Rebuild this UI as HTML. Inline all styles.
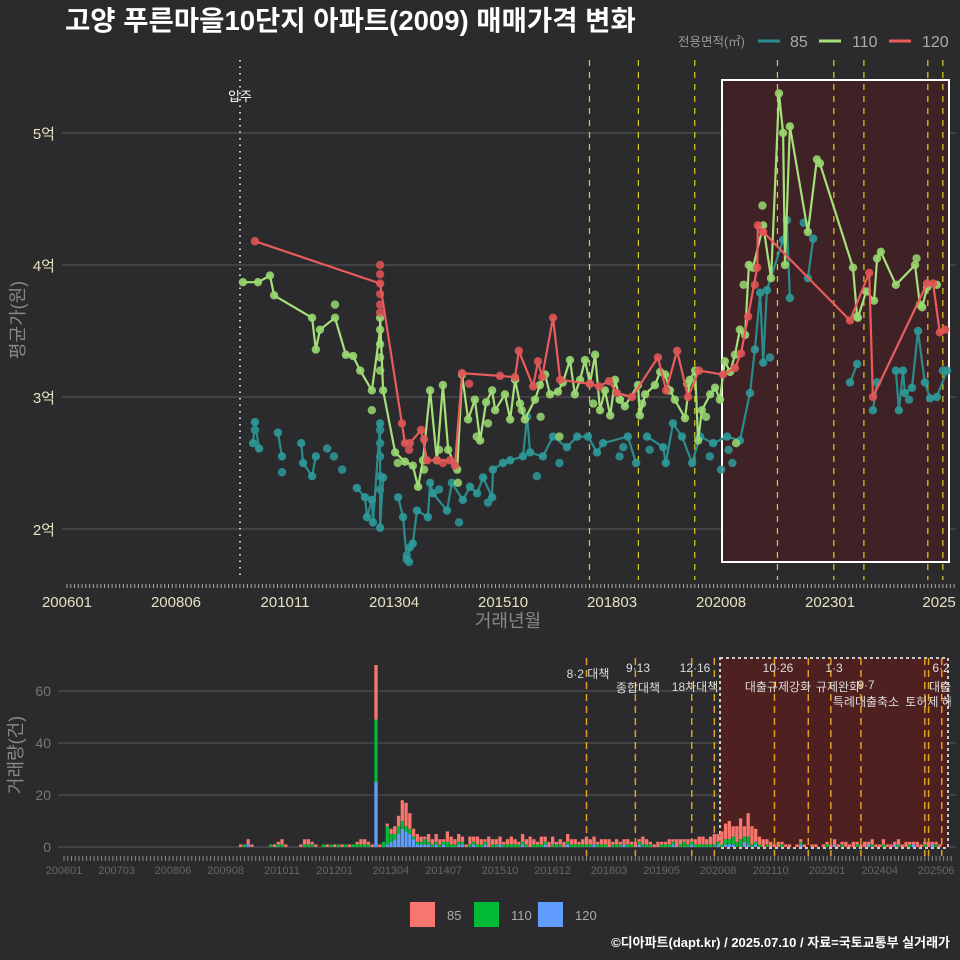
<!DOCTYPE html>
<html><head><meta charset="utf-8">
<style>
html,body{margin:0;padding:0;background:#2b2b2d;}
svg{display:block;font-family:"Liberation Sans","Noto Sans CJK KR",sans-serif;}
</style></head>
<body>
<svg id="chart" width="960" height="960" viewBox="0 0 960 960" xmlns="http://www.w3.org/2000/svg">
<rect x="0" y="0" width="960" height="960" fill="#2b2b2d"/>
<text x="65" y="30" fill="#ffffff" font-size="27.5" font-weight="bold">고양 푸른마을10단지 아파트(2009) 매매가격 변화</text>
<g font-size="16" fill="#aaaaaa">
<text x="678" y="46" font-size="12.5" fill="#999">전용면적(㎡)</text>
<line x1="758" y1="41" x2="780" y2="41" stroke="#2a8c8c" stroke-width="3"/><text x="790" y="47">85</text>
<line x1="819" y1="41" x2="841" y2="41" stroke="#a6e07a" stroke-width="3"/><text x="852" y="47">110</text>
<line x1="889" y1="41" x2="911" y2="41" stroke="#e85c5c" stroke-width="3"/><text x="922" y="47">120</text>
</g>
<g id="topg"></g>
<g id="bottom"></g>
<g font-size="13" fill="#aaaaaa">
<rect x="410" y="902" width="25" height="25" fill="#f8766d"/><text x="447" y="920">85</text>
<rect x="474" y="902" width="25" height="25" fill="#00ba38"/><text x="511" y="920">110</text>
<rect x="538" y="902" width="25" height="25" fill="#619cff"/><text x="575" y="920">120</text>
</g>
<text x="950" y="947" text-anchor="end" fill="#ffffff" font-size="13" font-weight="bold">©디아파트(dapt.kr) / 2025.07.10 / 자료=국토교통부 실거래가</text>
</svg>
<script>
// ===== DATA (months since 2006-01, prices in 억) =====
const xTickLabels = ["200601","200806","201011","201304","201510","201803","202008","202301","2025"];
const xTickMonths = [0,29,58,87,116,145,174,203,232];
const yTickLabels = ["2억","3억","4억","5억"];
const yTickValues = [2,3,4,5];
const eventMonths = [139,152,167,189,204,212,229,233];

const m110 = [46.8,50.8,54,55.1,65.2,66.2,67.3,71.3,74.2,76.1,78,81.1,83.3,83.3,84.1,87.3,89.9,92,93.4,94.7,96.6,98.4,100,101.4,103.8,105.1,106.7,108.5,109.9,111.5,113.1,113.9,116.5,117.9,119.2,120.5,121.8,124.5,125.8,127.2,128.5,130.6,131.9,133.8,135.1,136.5,137.8,139.1,140.5,141.8,143.1,144.5,145.8,147.1,148.4,151.9,152.4,153.8,156.4,157.8,159.1,160.4,161.7,164.4,165.7,167.1,167.9,168.9,171.1,172.4,173.7,175,176.4,177.7,179,180.4,181.4,182.5,185.2,187.3,189.4,190.5,191,192.3,197.1,199.5,200.3,209.1,210.2,210.4,212.6,214.7,215.5,216.5,220.5,225.6,226.9,227.5,228.8,231.4];
const v110 = [3.87,3.87,3.92,3.77,3.6,3.36,3.51,3.6,3.32,3.31,3.2,3.05,3.51,3.6,3.05,2.58,2.51,2.48,2.32,2.52,3.05,2.52,3.09,2.6,2.45,3.17,2.83,2.98,2.67,2.96,3.05,2.9,3.02,2.83,3.13,2.95,2.83,2.98,3.09,3.17,3.02,3.04,3.11,3.28,3.02,3.13,3.28,3.1,3.32,2.9,3.05,2.86,3.13,2.98,2.93,3.09,2.86,3.02,3.09,3.19,3.17,3.05,2.98,2.84,3.13,3.2,2.67,2.9,3.02,3.07,2.98,3.27,3.19,3.32,3.51,3.47,4,3.98,4.3,3.9,5.3,5,4,5.05,4.25,4.8,4.77,3.98,3.61,3.6,3.8,3.73,4.05,4.1,3.85,4,3.7,3.68,3.83,3.85];

const m120 = [50,83.3,89.1,89.9,91.2,94.2,95.8,98.4,101.9,103.2,105.1,115.2,119.2,120.2,124,125.3,126.4,129.3,131.2,139.1,141.5,144.2,146.3,150.3,157.2,159.4,162.3,165.2,168.1,174.5,177.7,179.3,181.2,183.6,183.8,185.2,208.3,213.4,214.4,228.8,230.4,232.2,233.6];
const v120 = [4.18,3.86,2.8,2.65,2.65,2.75,2.52,2.52,2.52,2.48,3.18,3.16,3.15,3.35,3.08,3.27,3.15,3.6,3.13,3.1,3.08,3.12,3.03,3,3.3,3.05,3.35,3,3.2,3.17,3.22,3.33,3.61,3.98,4.3,4.25,3.58,3.94,3,3.86,3.86,3.49,3.51];

// null marks a break in the 85 line
const m85 = [49.5,50,51.1,null,56.1,57.2,null,62.3,62.8,65.2,66.2,null,77.1,79.3,79.8,81.1,81.4,83.3,83.3,84.1,null,88.1,89.4,90.4,91.2,92,93.1,96,96.6,97.4,101.1,102.4,105.3,107.2,109.1,110.7,113.1,113.3,116,117.9,121.3,122.4,123.2,126.6,129.3,133,135.7,138.6,141,142.6,149.2,151.4,null,154.3,158.6,159.3,161.2,163.6,166.3,168.4,171.9,175.6,179,181.7,183,184.4,185.2,186.2,190.5,191.5,192.3,null,197.1,198.5,null,208.3,210.2,null,214.4,215.5,null,220.5,221.3,222.4,222.9,224.8,226.4,228.2,229.6,231.4,234.1];
const v85 = [2.65,2.81,2.61,null,2.73,2.55,null,2.65,2.5,2.4,2.55,null,2.31,2.24,2.09,2.22,2.05,2.8,2.01,2.39,null,2.24,2.09,1.77,1.86,1.89,2.14,2.09,2.35,2.27,2.14,2.35,2.22,2.32,2.27,2.39,2.24,2.45,2.5,2.52,2.55,2.85,2.58,2.55,2.7,2.62,2.7,2.7,2.58,2.65,2.7,2.5,null,2.7,2.62,2.5,2.8,2.7,2.5,2.7,2.65,2.7,2.67,3.03,3.36,3.79,3.26,3.81,4.19,4.34,3.75,null,3.9,4.2,null,3.11,3.25,null,2.9,3.11,null,3.2,2.9,3.2,3.03,3.07,3.5,3.11,2.99,3,3.2];

const sm85 = [50,57.2,69.2,71,73.2,83.3,83.3,83.3,83.3,83.3,90.4,91,104.3,99,112,125,131,147,148,155,171,174,176,177,187,196,224,233];
const sv85 = [2.75,2.43,2.61,2.55,2.45,2.75,2.65,2.55,2.4,2.3,1.8,1.75,2.05,2.3,2.2,2.4,2.5,2.55,2.62,2.6,2.55,2.45,2.6,2.5,3.3,4.32,2.98,3.2];
const sm110 = [71.3,81.1,83.3,83.3,83.3,88,95,99,104,109,112,121,126,131,140,147,153,160,165,170,178,180,185,226];
const sv110 = [3.7,2.9,3.4,3.3,3.2,2.5,2.45,2.6,2.35,2.7,2.8,2.9,2.85,2.7,2.95,2.98,2.95,3.05,3.1,2.85,2.65,3.85,4.45,4.05];
const sm120 = [83.3,83.3,83.3,83.3,83.3,91,95,100,107,183];
const sv120 = [4.0,3.93,3.78,3.7,3.64,2.6,2.68,2.5,3.1,3.85];

// Volume (count per month, starting at month 40)
const volStart = 40;
const vol85 = [0,0,0,0,0,0,0,1,0,2, 1,0,0,0,0,0,1,1,2,1, 0,0,0,1,2,2,1,1,0,0, 1,0,1,0,1,0,1,0,1,2, 2,1,1,21,1,0,1,2,3,4, 8,9,6,3,3,2,1,3,2,3, 2,1,4,3,2,3,2,1,3,2, 3,2,1,4,2,2,3,1,2,3, 2,1,3,2,4,2,1,3,2,2, 3,1,2,2,3,2,2,1,2,3, 2,3,1,2,2,3,1,2,1,2, 2,1,2,1,3,2,1,1,2,1, 1,2,1,3,2,1,2,1,2,3, 3,2,3,4,3,5,6,7,4,6, 8,4,9,7,5,3,3,2,2,1, 2,1,1,1,0,1,1,1,0,1, 1,0,1,1,1,2,1,1,2,1, 2,1,1,2,1,2,1,1,2,1, 1,1,2,1,2,1,1,2,1,1, 2,1,1,1];
const vol110 = [0,0,0,0,0,0,0,0,1,0, 0,0,0,0,0,1,0,1,1,0, 0,0,0,0,1,1,1,0,0,1, 0,1,0,1,0,1,0,1,1,1, 1,1,0,24,0,2,7,3,2,3, 3,2,2,1,1,1,2,1,1,1, 1,1,2,1,1,1,1,0,1,1, 1,1,1,0,1,1,0,1,1,1, 1,1,1,1,0,1,1,1,1,0, 1,1,1,0,1,1,1,1,1,1, 1,0,1,1,1,0,1,1,1,0, 1,1,0,1,1,1,1,0,0,1, 1,1,1,0,1,2,1,1,1,1, 1,1,1,1,1,1,2,2,3,2, 3,2,3,1,1,1,0,1,0,0, 0,1,0,0,0,0,1,0,0,0, 0,0,0,1,0,0,0,1,0,0, 0,1,0,0,0,1,0,0,1,0, 0,0,1,0,0,1,0,0,0,1, 0,0,1,0];
const vol120 = [0,0,0,0,0,0,0,0,0,1, 0,0,0,0,0,0,0,0,0,0, 0,0,0,0,0,0,0,0,0,0, 0,0,0,0,0,0,0,0,0,0, 0,0,0,25,0,0,1,2,3,5, 7,6,5,3,1,1,1,1,0,1, 0,1,0,0,0,1,1,0,0,1, 0,0,1,0,0,0,1,0,0,0, 0,0,1,0,0,0,0,0,1,0, 0,0,0,0,1,0,0,0,0,0, 0,1,0,0,0,0,0,0,0,1, 0,0,0,1,0,0,0,0,0,0, 0,0,1,0,0,0,0,1,0,0, 0,0,0,0,1,0,1,1,1,0, 0,2,1,0,1,0,0,0,0,0, 0,0,0,0,0,0,1,0,0,0, 0,0,0,0,0,1,0,0,0,0, 0,0,0,0,1,0,0,0,0,0, 0,1,0,0,0,0,1,0,0,0, 0,1,0,0];
const bxTickLabels = ["200601","200703","200806","200908","201011","201201","201304","201407","201510","201612","201803","201905","202008","202110","202301","202404","202506"];
const bxTickMonths = [0,14,29,43,58,72,87,101,116,130,145,159,174,188,203,217,232];
const byTickValues = [0,20,40,60];
const bEventMonths = [139,152,167,173,189,198,204,212,229,230,233.5];

// ===== SCALES =====
const NS = "http://www.w3.org/2000/svg";
const xS = m => 67 + m * 3.759;
const yS = v => 529 - (v - 2) * 132;
const bxS = m => 64 + m * 3.759;
const byS = v => 847 - v * 2.6;
function mk(parent, tag, attrs, text) {
  const e = document.createElementNS(NS, tag);
  for (const k in attrs) e.setAttribute(k, attrs[k]);
  if (text !== undefined) e.textContent = text;
  parent.appendChild(e);
  return e;
}
const topG = document.getElementById('topg');
const bot = document.getElementById('bottom');

yTickValues.forEach((v, i) => {
  const g = mk(topG, 'line', {x1: 62, x2: 956, y1: yS(v), y2: yS(v), stroke: '#5a5a5a', 'stroke-width': 1});
  
  
  const t = mk(topG, 'text', {x: 55, y: yS(v) + 6, fill: '#e6e2c0', 'font-size': 15, 'text-anchor': 'end'}, yTickLabels[i]);
  
  
});
const hb = mk(topG, 'rect', {x: 722, y: 80, width: 227, height: 482, fill: '#3e2226', stroke: '#ffffff', 'stroke-width': 2});


const mv = mk(topG, 'line', {x1: 240, x2: 240, y1: 60, y2: 580, stroke: '#cccccc', 'stroke-width': 2, 'stroke-dasharray': '1.5,5'});


const mvt = mk(topG, 'text', {x: 240, y: 101, fill: '#ffffff', 'font-size': 13, 'text-anchor': 'middle'}, '입주');


eventMonths.forEach(m => {
  const l = mk(topG, 'line', {x1: xS(m), x2: xS(m), y1: 60, y2: 580, stroke: '#d8d020', 'stroke-width': 1.2, 'stroke-dasharray': '6,6'});
  
  
});
for (let m = 0; m <= 236; m++) {
  const tk = mk(topG, 'line', {x1: xS(m), x2: xS(m), y1: 584, y2: 588, stroke: '#aaaaaa', 'stroke-width': 1});
  
  
}
xTickLabels.forEach((lab, i) => {
  const t = mk(topG, 'text', {x: xS(xTickMonths[i]), y: 607, fill: '#e6e2c0', 'font-size': 15, 'text-anchor': 'middle'}, lab);
  
  
});
const xt = mk(topG, 'text', {x: 508, y: 627, fill: '#888888', 'font-size': 18, 'text-anchor': 'middle'}, '거래년월');


const yt = mk(topG, 'text', {x: 0, y: 0, fill: '#888888', 'font-size': 18, 'text-anchor': 'middle', transform: 'translate(24,320) rotate(-90)'}, '평균가(원)');



function drawSeries(ms, vs, sms, svs, color, dotColor, name) {
  const g = mk(topG, 'g', {});
  
  
  for (let i = 0; i < sms.length; i++) {
    const c = mk(g, 'circle', {cx: xS(sms[i]), cy: yS(svs[i]), r: 4.2, fill: dotColor, 'fill-opacity': 0.85});
    
    
  }
  let d = '', pen = false;
  for (let i = 0; i < ms.length; i++) {
    if (ms[i] === null) { pen = false; continue; }
    d += (pen ? 'L' : 'M') + xS(ms[i]).toFixed(1) + ',' + yS(vs[i]).toFixed(1);
    pen = true;
  }
  const p = mk(g, 'path', {d: d, fill: 'none', stroke: color, 'stroke-width': 2.2, 'stroke-linejoin': 'round'});
  
  
  for (let i = 0; i < ms.length; i++) {
    if (ms[i] === null) continue;
    const c = mk(g, 'circle', {cx: xS(ms[i]), cy: yS(vs[i]), r: 4.2, fill: dotColor, 'fill-opacity': 0.9});
    
    
  }
}
drawSeries(m85, v85, sm85, sv85, '#2a8c8c', '#2e9a9a', '85');
drawSeries(m110, v110, sm110, sv110, '#a6e07a', '#99d870', '110');
drawSeries(m120, v120, sm120, sv120, '#e85c5c', '#e05555', '120');

byTickValues.forEach(v => {
  const g = mk(bot, 'line', {x1: 58, x2: 956, y1: byS(v), y2: byS(v), stroke: '#5a5a5a', 'stroke-width': 1});
  
  
  const t = mk(bot, 'text', {x: 51, y: byS(v) + 5, fill: '#777777', 'font-size': 14, 'text-anchor': 'end'}, String(v));
  
  
});
const bh = mk(bot, 'rect', {x: 720, y: 658, width: 228, height: 190, fill: '#4f2020', stroke: '#cccccc', 'stroke-width': 2, 'stroke-dasharray': '3,3'});


bEventMonths.forEach(m => {
  const l = mk(bot, 'line', {x1: bxS(m), x2: bxS(m), y1: 658, y2: 856, stroke: '#e0a020', 'stroke-width': 1.5, 'stroke-dasharray': '7,5'});
  
  
});
const bw = 3.3;
for (let i = 0; i < vol85.length; i++) {
  const m = volStart + i;
  const x = bxS(m) - bw / 2;
  let base = 0;
  [[vol120[i], '#619cff'], [vol110[i], '#00ba38'], [vol85[i], '#f8766d']].forEach(([v, col]) => {
    if (v <= 0) return;
    const r = mk(bot, 'rect', {x: x, y: byS(base + v), width: bw, height: byS(base) - byS(base + v), fill: col});
    
    
    base += v;
  });
}
const ann = [[588,678,'8·2 대책'],[638,672,'9·13'],[638,692,'종합대책'],[695,672,'12·16'],[695,691,'18차대책'],[778,672,'10·26'],[778,691,'대출규제강화'],[834,672,'1·3'],[838,691,'규제완화'],[866,689,'9·7'],[866,706,'특례대출축소'],[929,706,'토허제 해'],[941,672,'6·2'],[940,691,'대출']];
ann.forEach(a => {
  const t = mk(bot, 'text', {x: a[0], y: a[1], fill: '#dddddd', 'font-size': 12, 'text-anchor': 'middle'}, a[2]);
  
  
});
const cover = mk(bot, 'rect', {x: 951, y: 650, width: 9, height: 70, fill: '#2b2b2d'});


for (let m = 0; m <= 236; m++) {
  const tk = mk(bot, 'line', {x1: bxS(m), x2: bxS(m), y1: 856, y2: 861, stroke: '#888888', 'stroke-width': 1});
  
  
}
bxTickLabels.forEach((lab, i) => {
  const t = mk(bot, 'text', {x: bxS(bxTickMonths[i]), y: 874, fill: '#666666', 'font-size': 11, 'text-anchor': 'middle'}, lab);
  
  
});
const byt = mk(bot, 'text', {x: 0, y: 0, fill: '#888888', 'font-size': 18, 'text-anchor': 'middle', transform: 'translate(22,755) rotate(-90)'}, '거래량(건)');


</script>
</body></html>
